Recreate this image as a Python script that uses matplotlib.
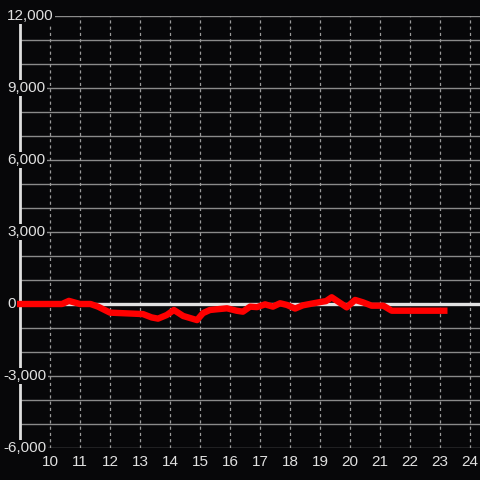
"""Dark line chart: single red series around zero, wide y range."""
import matplotlib
matplotlib.use("Agg")
import matplotlib.pyplot as plt
import matplotlib.transforms as mtransforms

# series
xs = [8.6, 10.4, 10.63, 11.0, 11.35, 11.6, 12.0, 13.1, 13.39, 13.6, 13.89,
      14.13, 14.44, 14.9, 15.1, 15.33, 15.56, 15.9, 16.22, 16.43, 16.67,
      16.9, 17.17, 17.43, 17.67, 17.9, 18.17, 18.43, 19.0, 19.2, 19.39,
      19.7, 19.89, 20.17, 20.43, 20.72, 21.11, 21.39, 23.25]
ys = [0, 0, 130, 0, 0, -110, -360, -420, -560, -610, -460,
      -250, -500, -670, -380, -250, -220, -180, -280, -320, -110,
      -130, -15, -110, 30, -40, -190, -55, 80, 120, 280,
      20, -140, 170, 70, -70, -70, -280, -280]

y_ticks = [12000, 9000, 6000, 3000, 0, -3000, -6000]
x_ticks = list(range(10, 25))

BG = "#070709"
TXT = "#e0e0e0"
plt.rcParams["font.family"] = ["Liberation Sans", "DejaVu Sans"]

fig = plt.figure(figsize=(4.8, 4.8), dpi=100, facecolor=BG)
ax = fig.add_axes([20 / 480, 1 - 448 / 480, 460 / 480, 432 / 480])
ax.set_facecolor(BG)
ax.set_xlim(9, 9 + 460 / 30)
ax.set_ylim(-6000, 12000)

# grid: solid horizontal every 1000, dashed vertical at each integer
for v in range(-6000, 12001, 1000):
    ax.axhline(v, color="#8a8a8a", lw=1.0, zorder=1)
for v in x_ticks:
    ax.axvline(v, color="#9a9a9a", lw=0.9, ls=(0, (2.5, 2.5)), zorder=1)
ax.axhline(0, color="#e2e2e2", lw=2.4, zorder=2)

for s in ["top", "right", "bottom"]:
    ax.spines[s].set_visible(False)
ax.spines["left"].set_color("#e0e0e0")
ax.spines["left"].set_linewidth(2.0)

ax.plot(xs, ys, color="#ff0000", lw=4.6, solid_joinstyle="round",
        solid_capstyle="butt", zorder=3, clip_on=False)

ax.set_yticks([])
ax.set_xticks(x_ticks)
ax.set_xticklabels([str(v) for v in x_ticks])
ax.tick_params(axis="x", length=0, pad=5, labelcolor=TXT, labelsize=11)

# y labels sit inside the plot, left-aligned over the spine
trans = mtransforms.blended_transform_factory(fig.transFigure, ax.transData)
for v in y_ticks:
    x0 = 7 if v >= 0 else 3
    ax.text(x0 / 480, v, f"{v:,}", transform=trans, ha="left", va="center",
            color=TXT, fontsize=11, zorder=6, clip_on=False,
            bbox=dict(facecolor=BG, edgecolor="none", pad=1.0))

fig.savefig("out.png", dpi=100, facecolor=BG)
